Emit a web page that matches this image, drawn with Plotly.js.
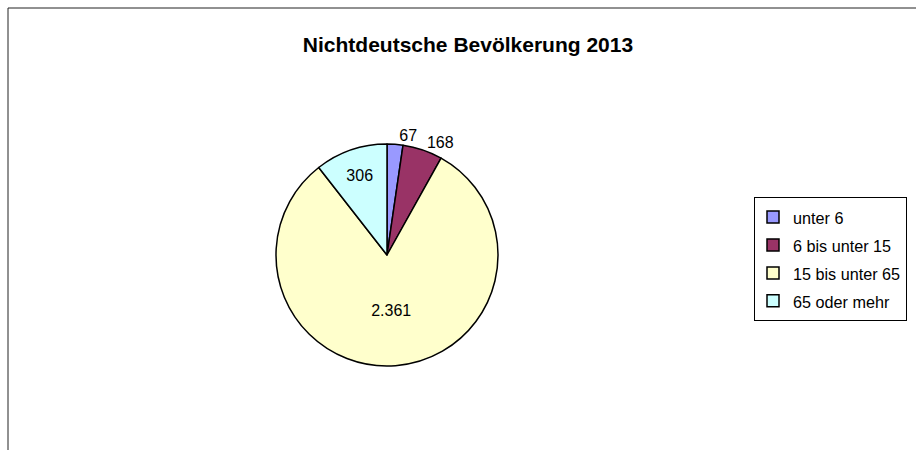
<!DOCTYPE html>
<html>
<head>
<meta charset="utf-8">
<script src="https://cdn.plot.ly/plotly-3.0.1.min.js"></script>
<style>html,body{margin:0;padding:0;background:#fff;}#chart{width:916px;height:450px;}</style>
</head>
<body>
<div id="chart"></div>
<script>
const categories = ['unter 6', '6 bis unter 15', '15 bis unter 65', '65 oder mehr'];
const values = [67, 168, 2361, 306];
const valueLabels = ['67', '168', '2.361', '306'];
const colors = ['#9999FF', '#993366', '#FFFFCC', '#CCFFFF'];
const labelPositions = ['outside', 'outside', 'inside', 'inside'];

const W = 916, H = 450;
const cx = 387, cy = 255, r = 111;
const FONT = 'Liberation Sans, Arial, sans-serif';
const domain = {x: [(cx - r) / W, (cx + r) / W], y: [(H - cy - r) / H, (H - cy + r) / H]};

// main pie: slices, legend and inside labels
const traces = [{
  type: 'pie',
  labels: categories.map(c => '<span style="font-size:16.2px">' + c + '</span>'),
  values: values,
  text: valueLabels.map((t, i) => labelPositions[i] === 'inside' ? t : ''),
  textinfo: 'text',
  textposition: labelPositions,
  insidetextorientation: 'horizontal',
  textfont: {family: FONT, size: 16, color: '#000'},
  sort: false,
  direction: 'clockwise',
  rotation: 0,
  marker: {colors: colors, line: {color: '#000', width: 1.5}},
  domain: domain,
  hoverinfo: 'label+value'
}];

// each outside label on its own transparent overlay so labels are not pushed apart
valueLabels.forEach((t, i) => {
  if (labelPositions[i] !== 'outside') return;
  traces.push({
    type: 'pie',
    labels: categories,
    values: values,
    text: valueLabels.map((v, j) => j === i ? v : ''),
    textinfo: 'text',
    textposition: 'outside',
    textfont: {family: FONT, size: 16, color: '#000'},
    sort: false,
    direction: 'clockwise',
    rotation: 0,
    marker: {colors: categories.map(() => 'rgba(0,0,0,0)'), line: {width: 0}},
    domain: domain,
    showlegend: false,
    hoverinfo: 'skip'
  });
});

const layout = {
  width: W, height: H,
  margin: {l: 0, r: 0, t: 0, b: 0},
  paper_bgcolor: '#fff',
  font: {family: FONT, color: '#000'},
  title: {text: '<b>Nichtdeutsche Bevölkerung 2013</b>', font: {size: 21, family: FONT, color: '#000'}, x: 468 / W, xanchor: 'center', y: 1 - 45 / H, yanchor: 'middle'},
  showlegend: true,
  legend: {
    x: 754 / W, y: 1 - 197 / H, xanchor: 'left', yanchor: 'top',
    bordercolor: '#000', borderwidth: 1, bgcolor: '#fff',
    font: {size: 19.2, family: FONT, color: '#000'},
    indentation: -2,
    traceorder: 'normal'
  },
  shapes: [
    {type: 'line', xref: 'paper', yref: 'paper', x0: 8 / W, x1: 1, y0: 1 - 8 / H, y1: 1 - 8 / H, line: {color: '#222', width: 1}},
    {type: 'line', xref: 'paper', yref: 'paper', x0: 8 / W, x1: 8 / W, y0: 0, y1: 1 - 8 / H, line: {color: '#222', width: 1}}
  ]
};

Plotly.newPlot('chart', traces, layout, {displayModeBar: false, staticPlot: true});
</script>
</body>
</html>
